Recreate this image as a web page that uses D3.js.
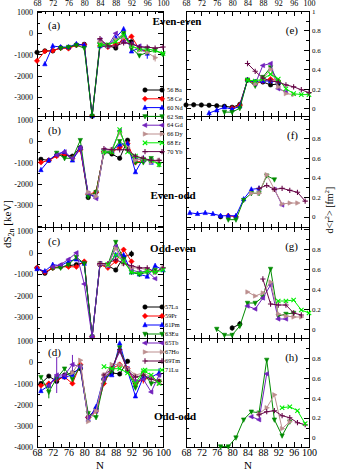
<!DOCTYPE html>
<html>
<head>
<meta charset="utf-8">
<script src="https://cdn.jsdelivr.net/npm/d3@7"></script>
<style>
  body { margin: 0; background: #fff; }
  svg { display: block; }
</style>
</head>
<body>
<div id="chart"></div>
<script>
const _ = null

// neutron numbers
const N_EVEN = [68, 70, 72, 74, 76, 78, 80, 82, 84, 86, 88, 90, 92, 94, 96, 98, 100]
const N_ODD = [69, 71, 73, 75, 77, 79, 81, 83, 85, 87, 89, 91, 93, 95, 97, 99]

// tick values
const N_TICKS = [68, 72, 76, 80, 84, 88, 92, 96, 100]
const N_MINOR = [70, 74, 78, 82, 86, 90, 94, 98]
const S2N_TICKS = [1000, 0, -1000, -2000, -3000, -4000]
const S2N_MINOR = [500, -500, -1500, -2500, -3500]
const R2_TICKS = [0, 0.2, 0.4, 0.6, 0.8, 1]
const R2_MINOR = [0.1, 0.3, 0.5, 0.7, 0.9]

const EVEN_Z = ['56 Ba', '58 Ce', '60 Nd', '62 Sm', '64 Gd', '66 Dy', '68 Er', '70 Yb']
const ODD_Z = ['57La', '59Pr', '61Pm', '63Eu', '65Tb', '67Ho', '69Tm', '71Lu']

// (a) dS2n even-even [keV]
const s2nEE_Ba = [-900, -830, -830, -680, -680, -550, -520, -3900, -450, -580, -700, -200, -400, _, _, _, _]
const s2nEE_Ce = [-1300, -850, -820, -700, -720, -560, -540, -3900, -600, -650, -500, -350, -150, -750, -850, _, _]
const s2nEE_Nd = [_, -1450, -600, -650, -650, -500, -560, -3900, -600, -600, -200, 200, -850, -700, -950, _, _]
const s2nEE_Sm = [_, _, _, -700, -650, -560, -700, -3900, -550, -550, -350, 0, -700, -1050, -900, -800, -1000]
const s2nEE_Gd = [_, _, _, _, _, _, _, _, -300, -600, 0, -400, -500, -600, -700, _, _]
const s2nEE_Dy = [_, _, _, _, _, _, _, _, -400, -600, -300, -200, -600, -800, -900, -1150, _]
const s2nEE_Er = [_, _, _, _, _, _, _, _, -550, -550, -400, -100, -600, -750, -750, -800, -950]
const s2nEE_Yb = [_, _, _, _, _, _, _, _, -250, -600, -600, -450, -500, -650, -650, -700, -650]
// error bars (half width)
const errEE_Nd = [_, _, _, _, _, _, _, _, _, _, _, _, _, _, 250, _, _]
const errEE_Dy = [_, _, _, _, _, _, _, _, _, _, _, _, _, _, _, 180, _]

// (b) dS2n even-odd
const s2nEO_Ba = [-850, -900, -650, -650, -700, -300, -2650, -2400, -500, -600, -800, 50, _, _, _, _]
const s2nEO_Ce = [-1000, -900, -700, -600, -800, -400, -2500, -2400, -500, -500, -300, -100, -1000, -900, _, _]
const s2nEO_Nd = [-1350, -900, -600, -500, -900, -300, -2500, -2600, -500, -450, -150, -100, -1450, -800, -1000, _]
const s2nEO_Sm = [_, _, -550, -800, -800, 50, -2600, -2400, -550, -500, 0, -350, -1000, -1000, -800, -1100]
const s2nEO_Gd = [_, _, -650, -500, -800, -300, -2450, -2700, -400, -400, 500, -400, -800, -900, -900, _]
const s2nEO_Dy = [_, _, _, _, _, _, -2400, -2600, -500, -400, 400, -300, -900, -800, -1000, -900]
const s2nEO_Er = [_, _, _, _, _, _, _, _, -500, -500, 550, -500, -700, -850, -900, -1100]
const s2nEO_Yb = [_, _, _, _, _, _, _, _, -350, -400, -400, -400, -700, -800, -900, -900]

// (c) dS2n odd-even
const s2nOE_La = [-700, -950, -700, -650, -600, -550, -450, -3900, -550, -600, -800, -200, -50, _, _, _, _]
const s2nOE_Pr = [-700, -900, -700, -650, -650, -650, -400, -3900, -550, -700, -400, 150, -400, _, _, _, _]
const s2nOE_Pm = [-750, -850, -550, -600, -400, -300, -500, -3900, -500, -600, -100, -100, -900, -1000, -1100, -600, -800]
const s2nOE_Eu = [_, _, -700, -700, -550, -200, -500, -3900, -500, -550, 500, -300, -900, -1000, -900, -800, _]
const s2nOE_Tb = [_, _, -650, -550, -300, 0, -1450, -3900, -500, -600, 300, -400, -800, -900, -850, -1200, _]
const s2nOE_Ho = [_, _, _, _, _, _, _, _, -500, -600, 200, -500, -700, -700, -800, -900, -700]
const s2nOE_Tm = [_, _, _, _, _, _, _, _, -500, -500, -300, -500, -600, -700, -700, -900, -700]
const s2nOE_Lu = [_, _, _, _, _, _, _, _, _, -550, -100, -400, -900, -950, -850, -900, -800]
const errOE_La = [_, _, _, _, _, _, _, _, _, _, _, _, 150, _, _, _, _]

// (d) dS2n odd-odd
const s2nOO_La = [-1000, -650, -900, -600, -500, -300, -2600, -2200, -800, -500, -550, 50, _, _, _, _]
const s2nOO_Pr = [-1100, -1000, -800, -700, -1000, -100, -2600, -2300, -1000, -300, -100, -300, -1000, -800, -700, -900]
const s2nOO_Pm = [-1350, -1100, -700, -700, -600, -200, -2700, -2100, -700, -600, 900, -400, -1600, -700, -700, -500]
const s2nOO_Eu = [-700, -1400, -750, -300, -800, -200, -2400, -2600, -900, -400, 700, -400, -1200, -500, -1000, -900]
const s2nOO_Tb = [_, -1100, -600, -600, -100, -200, -2600, -2300, -800, -300, 500, -300, -900, -800, -1400, -600]
const s2nOO_Ho = [_, _, _, _, -500, 100, -2800, -2300, -600, -100, -100, -300, -600, -500, -700, -1000]
const s2nOO_Tm = [_, _, _, _, _, _, _, _, -600, -300, 600, -400, -700, -600, -800, -900]
const s2nOO_Lu = [_, _, _, _, _, _, _, _, -200, -300, -300, -500, -1000, -400, -600, -1000]
const errOO_Pm = [_, _, _, _, _, _, _, _, _, _, _, _, _, _, _, 220]
const errOO_Eu = [_, 300, _, _, _, _, _, _, _, _, _, _, _, _, _, _]
const errOO_Tb = [_, _, 850, _, 450, _, _, _, _, _, _, _, _, _, _, _]
const errOO_Pr = [_, _, _, _, _, _, _, _, _, _, _, _, _, 200, _, _]

// (e) d<r2> even-even [fm2]
const r2EE_Ba = [0.034, 0.035, 0.033, 0.03, 0.025, 0.02, 0.01, 0.04, 0.29, 0.27, 0.27, 0.24, 0.25, _, _, _, _]
const r2EE_Ce = [_, _, _, _, _, _, 0.0, 0.03, 0.29, 0.25, 0.28, 0.30, 0.28, _, _, _, _]
const r2EE_Nd = [_, _, _, -0.05, -0.02, 0.01, -0.01, 0.02, 0.29, 0.27, 0.28, 0.28, 0.27, _, _, _, _]
const r2EE_Sm = [_, _, _, _, _, -0.04, -0.04, 0.0, 0.29, 0.23, 0.32, 0.42, 0.27, _, _, _, _]
const r2EE_Gd = [_, _, _, _, _, _, _, _, _, 0.25, 0.44, 0.46, 0.2, 0.17, _, _, _]
const r2EE_Dy = [_, _, _, _, _, _, _, _, _, 0.25, 0.3, 0.4, 0.22, 0.15, 0.14, _, _]
const r2EE_Er = [_, _, _, _, _, _, _, _, 0.29, 0.28, 0.3, 0.35, 0.3, 0.2, 0.15, 0.14, 0.14]
const r2EE_Yb = [_, _, _, _, _, _, _, _, 0.46, 0.38, 0.31, 0.28, 0.27, 0.24, 0.22, 0.19, 0.16]

// (f) d<r2> even-odd
const r2EO_Ba = [_, _, _, _, 0.0, _, _, _, _, _, _, _, _, _, _, _]
const r2EO_Ce = [_, _, _, _, _, 0.01, 0.0, _, _, _, _, _, _, _, _, _]
const r2EO_Nd = [0.04, 0.03, 0.04, 0.03, 0.01, 0.01, 0.01, 0.18, 0.28, 0.29, _, _, _, _, _, _]
const r2EO_Sm = [_, _, _, _, _, -0.03, -0.03, 0.17, 0.24, 0.24, 0.42, 0.38, _, _, _, _]
const r2EO_Gd = [_, _, _, _, _, _, _, _, _, _, _, 0.28, 0.12, _, _, _]
const r2EO_Dy = [_, _, _, _, _, _, _, _, 0.24, 0.24, 0.43, 0.28, 0.13, 0.14, 0.14, _]
const r2EO_Er = [_, _, _, _, _, _, _, _, _, _, _, _, _, _, _, _]
const r2EO_Yb = [_, _, _, _, _, _, _, _, _, 0.29, 0.32, 0.28, 0.29, 0.27, 0.25, 0.16]

// (g) d<r2> odd-even
const r2OE_La = [_, _, _, _, _, _, 0.01, 0.05, _, _, _, _, _, _, _, _, _]
const r2OE_Pr = [_, _, _, _, _, _, _, _, _, _, _, _, _, _, _, _, _]
const r2OE_Pm = [_, _, _, _, _, _, _, _, _, _, _, _, _, _, _, _, _]
const r2OE_Eu = [_, _, _, _, 0.0, -0.06, -0.06, 0.03, 0.26, 0.26, 0.32, 0.6, 0.13, 0.15, 0.16, _, _]
const r2OE_Tb = [_, _, _, _, _, _, _, _, 0.23, 0.2, 0.31, 0.44, 0.1, 0.1, _, _, _]
const r2OE_Ho = [_, _, _, _, _, _, _, _, 0.37, 0.33, 0.36, 0.47, 0.15, 0.13, 0.12, 0.12, _]
const r2OE_Tm = [_, _, _, _, _, _, _, _, _, _, 0.5, 0.25, 0.24, 0.24, 0.16, 0.14, _]
const r2OE_Lu = [_, _, _, _, _, _, _, _, _, _, _, _, 0.28, 0.28, 0.29, 0.19, 0.16]
const errOE_La2 = [_, _, _, _, _, _, 0.025, 0.03, _, _, _, _, _, _, _, _, _]

// (h) d<r2> odd-odd
const r2OO_La = [_, _, _, _, _, _, _, _, _, _, _, _, _, _, _, _]
const r2OO_Pr = [_, _, _, _, _, _, _, _, _, _, _, _, _, _, _, _]
const r2OO_Pm = [_, _, _, _, _, _, _, _, _, _, _, _, _, _, _, _]
const r2OO_Eu = [_, _, _, _, -0.09, -0.09, 0.0, 0.18, 0.26, 0.25, 0.78, 0.18, 0.02, 0.16, _, _]
const r2OO_Tb = [_, _, _, _, _, _, _, _, 0.21, 0.18, 0.64, _, _, _, _, _]
const r2OO_Ho = [_, _, _, _, _, _, _, _, _, 0.24, 0.3, 0.43, 0.09, 0.16, _, _]
const r2OO_Tm = [_, _, _, _, _, _, _, _, _, 0.23, 0.26, 0.27, 0.22, 0.2, 0.15, 0.13]
const r2OO_Lu = [_, _, _, _, _, _, _, _, _, _, _, _, 0.3, 0.31, 0.27, 0.14]

const W = 338
const H = 471
const FONT = '"Liberation Serif", "DejaVu Serif", "Times New Roman", serif'

const EVEN_COLORS = ['#000000', '#ff0000', '#0000ff', '#008b00', '#7221bc', '#bc8f8f', '#00ee00', '#670748']
const EVEN_SYMBOLS = ['circle', 'diamond', 'up', 'down', 'left', 'right', 'x', 'plus']
const ODD_COLORS = ['#000000', '#ff0000', '#0000ff', '#008b00', '#7221bc', '#bc8f8f', '#670748', '#00ee00']
const ODD_SYMBOLS = ['circle', 'diamond', 'up', 'down', 'left', 'right', 'plus', 'x']

const xLeft = d3.scaleLinear().domain([68, 100]).range([37, 163])
const xRight = d3.scaleLinear().domain([68, 100]).range([186, 309])
const rowTop = [11, 116, 227, 338]
const rowBottom = [116, 227, 338, 447]
const leftDomains = [[-3900, 1050], [-4040, 1190], [-3960, 1200], [-4000, 1150]]
const rightDomains = [[-0.08, 1.0], [-0.105, 1.03], [-0.09, 1.02], [-0.094, 1.0]]

const marker = (type, r) => {
  const k = r * 0.8
  switch (type) {
    case 'circle':
      return `M${r},0A${r},${r} 0 1,1 ${-r},0A${r},${r} 0 1,1 ${r},0Z`
    case 'diamond':
      return `M0,${-r * 1.2}L${r * 1.2},0L0,${r * 1.2}L${-r * 1.2},0Z`
    case 'up':
      return `M0,${-r * 1.2}L${r},${k}L${-r},${k}Z`
    case 'down':
      return `M0,${r * 1.2}L${r},${-k}L${-r},${-k}Z`
    case 'left':
      return `M${-r * 1.2},0L${k},${-r}L${k},${r}Z`
    case 'right':
      return `M${r * 1.2},0L${-k},${-r}L${-k},${r}Z`
    case 'plus':
      return `M${-r * 1.2},0H${r * 1.2}M0,${-r * 1.2}V${r * 1.2}`
    default:
      return `M${-r},${-r}L${r},${r}M${-r},${r}L${r},${-r}`
  }
}

const drawMarker = (g, type, color, cx, cy) => {
  const open = type === 'plus' || type === 'x'
  g.append('path')
    .attr('transform', `translate(${cx},${cy})`)
    .attr('d', marker(type, 2.2))
    .attr('fill', open ? 'none' : color)
    .attr('stroke', color)
    .attr('stroke-width', open ? 1.1 : 0.6)
}

const svg = d3
  .select('#chart')
  .append('svg')
  .attr('width', W)
  .attr('height', H)
  .style('background', '#fff')

const panels = [
  { x: xLeft, row: 0, n: N_EVEN, even: true, letter: '(a)',
    series: [s2nEE_Ba, s2nEE_Ce, s2nEE_Nd, s2nEE_Sm, s2nEE_Gd, s2nEE_Dy, s2nEE_Er, s2nEE_Yb],
    errors: { 2: errEE_Nd, 5: errEE_Dy } },
  { x: xLeft, row: 1, n: N_ODD, even: true, letter: '(b)',
    series: [s2nEO_Ba, s2nEO_Ce, s2nEO_Nd, s2nEO_Sm, s2nEO_Gd, s2nEO_Dy, s2nEO_Er, s2nEO_Yb],
    errors: {} },
  { x: xLeft, row: 2, n: N_EVEN, even: false, letter: '(c)',
    series: [s2nOE_La, s2nOE_Pr, s2nOE_Pm, s2nOE_Eu, s2nOE_Tb, s2nOE_Ho, s2nOE_Tm, s2nOE_Lu],
    errors: { 0: errOE_La } },
  { x: xLeft, row: 3, n: N_ODD, even: false, letter: '(d)',
    series: [s2nOO_La, s2nOO_Pr, s2nOO_Pm, s2nOO_Eu, s2nOO_Tb, s2nOO_Ho, s2nOO_Tm, s2nOO_Lu],
    errors: { 1: errOO_Pr, 2: errOO_Pm, 3: errOO_Eu, 4: errOO_Tb } },
  { x: xRight, row: 0, n: N_EVEN, even: true, letter: '(e)',
    series: [r2EE_Ba, r2EE_Ce, r2EE_Nd, r2EE_Sm, r2EE_Gd, r2EE_Dy, r2EE_Er, r2EE_Yb],
    errors: {} },
  { x: xRight, row: 1, n: N_ODD, even: true, letter: '(f)',
    series: [r2EO_Ba, r2EO_Ce, r2EO_Nd, r2EO_Sm, r2EO_Gd, r2EO_Dy, r2EO_Er, r2EO_Yb],
    errors: {} },
  { x: xRight, row: 2, n: N_EVEN, even: false, letter: '(g)',
    series: [r2OE_La, r2OE_Pr, r2OE_Pm, r2OE_Eu, r2OE_Tb, r2OE_Ho, r2OE_Tm, r2OE_Lu],
    errors: { 0: errOE_La2 } },
  { x: xRight, row: 3, n: N_ODD, even: false, letter: '(h)',
    series: [r2OO_La, r2OO_Pr, r2OO_Pm, r2OO_Eu, r2OO_Tb, r2OO_Ho, r2OO_Tm, r2OO_Lu],
    errors: {} }
]

const addAxis = (g, gen, transform, size) => {
  const a = g
    .append('g')
    .attr('transform', transform)
    .call(gen)
  a.select('.domain').remove()
  a.attr('font-family', FONT).attr('font-size', size)
  a.selectAll('line').attr('stroke', '#000').attr('shape-rendering', 'crispEdges')
  a.selectAll('text').attr('fill', '#000')
  return a
}

panels.forEach(p => {
  const isLeft = p.x === xLeft
  const [x0, x1] = p.x.range()
  const top = rowTop[p.row]
  const bottom = rowBottom[p.row]
  const dom = isLeft ? leftDomains[p.row] : rightDomains[p.row]
  const y = d3.scaleLinear().domain(dom).range([bottom, top])
  const inDom = v => v >= dom[0] && v <= dom[1]
  const g = svg.append('g')

  // x ticks top and bottom, inward
  const showTop = p.row === 0
  const showBottom = p.row === 3
  addAxis(g, d3.axisTop(p.x).tickValues(N_TICKS).tickSize(-5).tickPadding(5)
    .tickFormat(d => (showTop ? d : '')), `translate(0,${top})`, 8)
  addAxis(g, d3.axisTop(p.x).tickValues(N_MINOR).tickSize(-3).tickFormat(''), `translate(0,${top})`, 8)
  addAxis(g, d3.axisBottom(p.x).tickValues(N_TICKS).tickSize(-5).tickPadding(2)
    .tickFormat(d => (showBottom ? d : '')), `translate(0,${bottom})`, 10)
  addAxis(g, d3.axisBottom(p.x).tickValues(N_MINOR).tickSize(-3).tickFormat(''), `translate(0,${bottom})`, 8)

  // y ticks both sides, inward
  const major = (isLeft ? S2N_TICKS : R2_TICKS).filter(inDom)
  const minor = (isLeft ? S2N_MINOR : R2_MINOR).filter(inDom)
  const labelLeft = d => (d === -4000 && p.row !== 3 ? '' : String(d))
  const labelRight = d => (d === 1 && p.row !== 0 ? '' : String(d))
  addAxis(g, d3.axisLeft(y).tickValues(major).tickSize(-5).tickPadding(4)
    .tickFormat(isLeft ? labelLeft : ''), `translate(${x0},0)`, 8)
  addAxis(g, d3.axisLeft(y).tickValues(minor).tickSize(-3).tickFormat(''), `translate(${x0},0)`, 8)
  addAxis(g, d3.axisRight(y).tickValues(major).tickSize(-5).tickPadding(3)
    .tickFormat(isLeft ? '' : labelRight), `translate(${x1},0)`, 7)
  addAxis(g, d3.axisRight(y).tickValues(minor).tickSize(-3).tickFormat(''), `translate(${x1},0)`, 7)

  g.append('rect')
    .attr('x', x0)
    .attr('y', top)
    .attr('width', x1 - x0)
    .attr('height', bottom - top)
    .attr('fill', 'none')
    .attr('stroke', '#000')
    .attr('stroke-width', 1)
    .attr('shape-rendering', 'crispEdges')

  const colors = p.even ? EVEN_COLORS : ODD_COLORS
  const symbols = p.even ? EVEN_SYMBOLS : ODD_SYMBOLS
  const line = d3
    .line()
    .x(d => p.x(d[0]))
    .y(d => y(d[1]))

  p.series.forEach((vals, i) => {
    const err = p.errors[i]
    const pts = p.n.map((n, j) => [n, vals[j], err ? err[j] : null]).filter(d => d[1] !== null)
    if (!pts.length) return
    g.append('path')
      .datum(pts)
      .attr('d', line)
      .attr('fill', 'none')
      .attr('stroke', colors[i])
      .attr('stroke-width', 1)
    pts.filter(d => d[2] !== null).forEach(d => {
      const cx = p.x(d[0])
      g.append('line')
        .attr('x1', cx).attr('x2', cx)
        .attr('y1', y(d[1] - d[2])).attr('y2', y(d[1] + d[2]))
        .attr('stroke', colors[i])
        .attr('stroke-width', 1)
    })
    pts.forEach(d => drawMarker(g, symbols[i], colors[i], p.x(d[0]), y(d[1])))
  })

  g.append('text')
    .attr('x', isLeft ? 48 : 298)
    .attr('y', top + 18 + (isLeft ? 0 : 5))
    .attr('text-anchor', isLeft ? 'start' : 'end')
    .attr('font-family', FONT)
    .attr('font-size', 11)
    .text(p.letter)
})

// class labels between the columns
const classLabels = [
  ['Even-even', 177, 25],
  ['Even-odd', 173, 199],
  ['Odd-even', 173, 252],
  ['Odd-odd', 175, 420]
]
classLabels.forEach(([t, x, yy]) => {
  svg.append('text')
    .attr('x', x)
    .attr('y', yy)
    .attr('text-anchor', 'middle')
    .attr('font-family', FONT)
    .attr('font-weight', 'bold')
    .attr('font-size', 11)
    .text(t)
})

// legends
const drawLegend = (names, colors, symbols, y0, step, textX) => {
  names.forEach((name, i) => {
    const yy = y0 + i * step
    svg.append('line')
      .attr('x1', 145).attr('x2', 162)
      .attr('y1', yy).attr('y2', yy)
      .attr('stroke', colors[i])
      .attr('stroke-width', 1)
    drawMarker(svg, symbols[i], colors[i], 145, yy)
    drawMarker(svg, symbols[i], colors[i], 162, yy)
    svg.append('text')
      .attr('x', textX)
      .attr('y', yy)
      .attr('dy', '0.35em')
      .attr('font-family', FONT)
      .attr('font-size', 6.3)
      .text(name)
  })
}
drawLegend(EVEN_Z, EVEN_COLORS, EVEN_SYMBOLS, 90, 8.8, 167)
drawLegend(ODD_Z, ODD_COLORS, ODD_SYMBOLS, 307, 9, 165)

// axis titles
;[100, 248].forEach(x => {
  svg.append('text')
    .attr('x', x)
    .attr('y', 468.5)
    .attr('text-anchor', 'middle')
    .attr('font-family', FONT)
    .attr('font-size', 11)
    .text('N')
})

const yTitle = svg.append('text')
  .attr('transform', 'translate(11,224) rotate(-90)')
  .attr('text-anchor', 'middle')
  .attr('font-family', FONT)
  .attr('font-size', 11)
yTitle.append('tspan').text('dS')
yTitle.append('tspan').attr('font-size', 8).attr('dy', 3).text('2n')
yTitle.append('tspan').attr('dy', -3).text(' [keV]')

const rTitle = svg.append('text')
  .attr('transform', 'translate(333,210) rotate(-90)')
  .attr('text-anchor', 'middle')
  .attr('font-family', FONT)
  .attr('font-size', 10)
rTitle.append('tspan').text('d<r')
rTitle.append('tspan').attr('font-size', 7).attr('dy', -4).text('2')
rTitle.append('tspan').attr('dy', 4).text('> [fm')
rTitle.append('tspan').attr('font-size', 7).attr('dy', -4).text('2')
rTitle.append('tspan').attr('dy', 4).text(']')
</script>
</body>
</html>
